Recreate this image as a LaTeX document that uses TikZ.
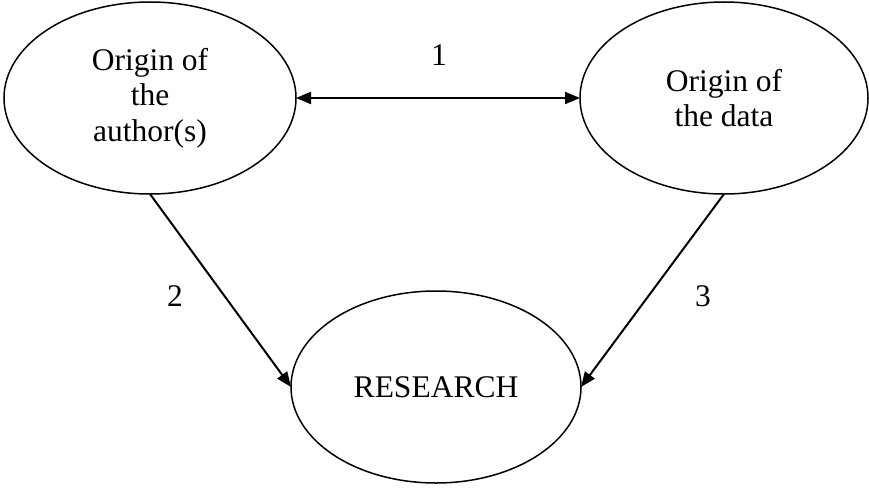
\documentclass[tikz,border=0pt]{standalone}
\usepackage{fontspec}
\setmainfont{Liberation Serif}
\usetikzlibrary{shapes.geometric,arrows.meta}
\tikzset{
  bubble/.style={draw, ellipse, line width=1.5pt, inner sep=0pt, outer sep=0pt,
    align=center, font=\fontsize{31.5}{35.5}\selectfont},
  arr/.style={line width=2pt, -{Triangle[length=15pt,width=12pt]}},
  darr/.style={line width=2pt, {Triangle[length=15pt,width=12pt]}-{Triangle[length=15pt,width=12pt]}},
  lbl/.style={anchor=base, inner sep=0pt, font=\fontsize{31.5}{35.5}\selectfont}
}
\begin{document}
\begin{tikzpicture}[x=1pt,y=-1pt]
\useasboundingbox (0,0) rectangle (869,487);
\node[bubble, minimum width=292pt, minimum height=192pt] (L) at (150,98) {Origin of\\the\\author(s)};
\node[bubble, minimum width=288pt, minimum height=192pt] (R) at (724,98) {Origin of\\the data};
\node[bubble, minimum width=290pt, minimum height=192pt] (B) at (436,387) {RESEARCH};
\draw[darr] (L.east) -- (R.west);
\draw[arr] (L.south) -- (B.west);
\draw[arr] (R.south) -- (B.east);
\node[lbl] (n1) at (439,65) {1};
\node[lbl] (n2) at (175,306) {2};
\node[lbl] (n3) at (703,306) {3};
\end{tikzpicture}
\end{document}
